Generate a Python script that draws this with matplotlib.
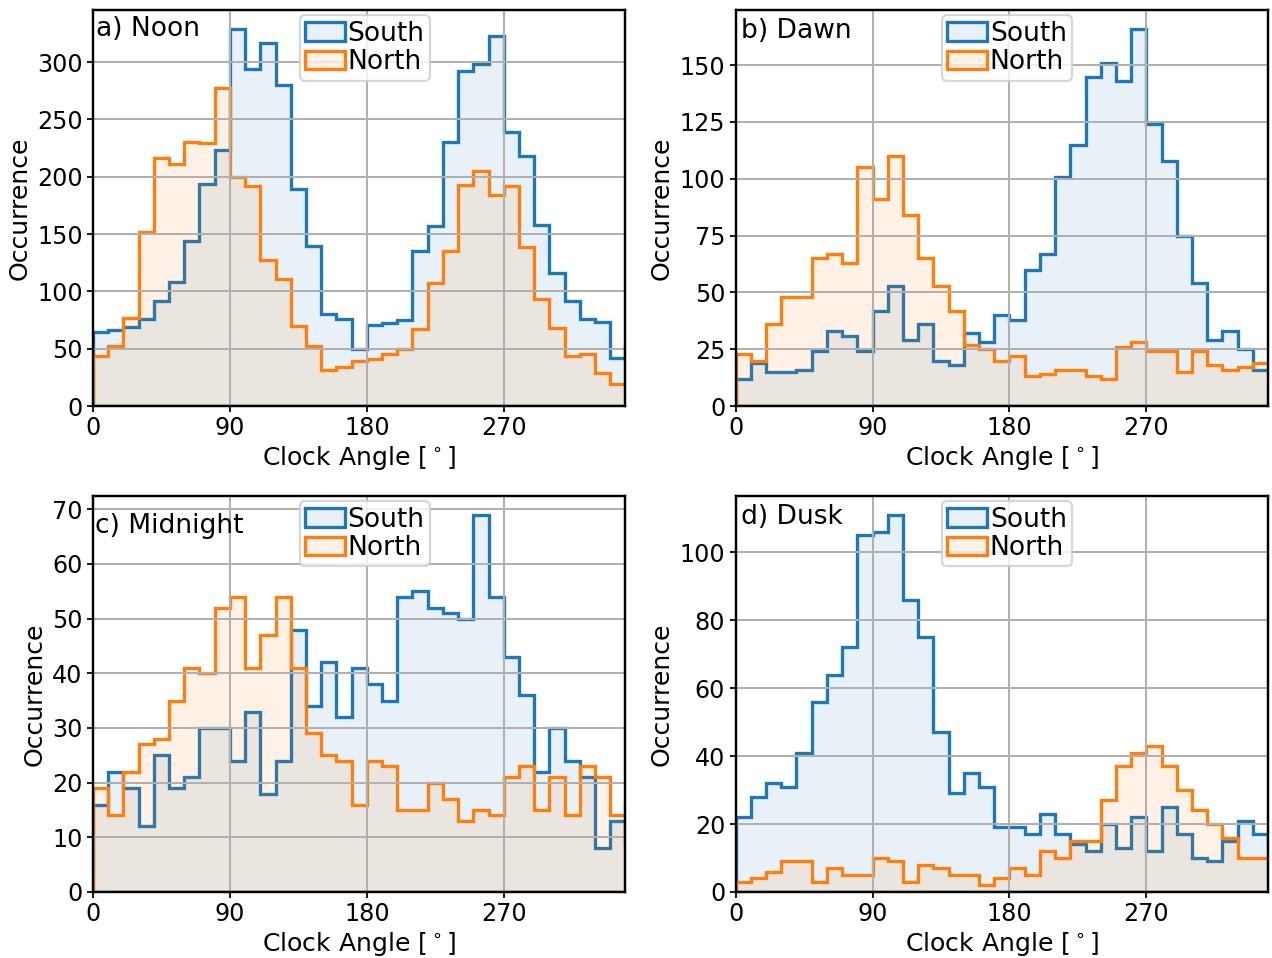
import matplotlib
matplotlib.use('Agg')
import matplotlib.pyplot as plt
import numpy as np
from matplotlib.colors import to_rgba

# 10 degree clock angle bins, 0 - 360
bin_edges = np.arange(0, 361, 10)

noon_south = [65, 66, 69, 76, 92, 108, 144, 194, 223, 329, 294, 317, 280, 189, 140, 80, 76, 50,
              71, 72, 75, 135, 157, 230, 292, 298, 323, 239, 218, 158, 116, 92, 76, 73, 42, 52]
noon_north = [44, 52, 77, 152, 216, 211, 230, 229, 277, 200, 192, 127, 111, 70, 52, 31, 34, 39,
              41, 45, 50, 67, 107, 135, 193, 205, 184, 192, 139, 93, 68, 44, 45, 29, 19, 20]

dawn_south = [12, 19, 15, 15, 16, 24, 33, 31, 24, 42, 53, 29, 36, 20, 18, 32, 28, 40,
              38, 60, 67, 101, 115, 145, 151, 143, 166, 124, 108, 75, 54, 29, 33, 25, 16, 16]
dawn_north = [23, 20, 36, 48, 48, 65, 67, 63, 105, 91, 110, 84, 65, 53, 42, 27, 25, 20,
              22, 13, 14, 16, 16, 13, 12, 26, 28, 24, 24, 15, 24, 18, 16, 17, 19, 19]

midnight_south = [16, 22, 19, 12, 25, 19, 21, 30, 30, 24, 33, 18, 24, 48, 34, 42, 32, 41,
                  38, 35, 54, 55, 52, 51, 50, 69, 54, 43, 36, 22, 30, 24, 21, 8, 13, 9]
midnight_north = [19, 14, 22, 27, 28, 35, 41, 40, 52, 54, 41, 47, 54, 41, 29, 25, 24, 16,
                  24, 23, 15, 15, 20, 17, 13, 15, 14, 21, 23, 15, 21, 14, 23, 21, 14, 16]

dusk_south = [22, 28, 32, 31, 41, 56, 64, 72, 105, 106, 111, 86, 75, 47, 29, 35, 31, 19,
              19, 17, 23, 17, 14, 12, 20, 13, 22, 12, 25, 17, 10, 9, 15, 21, 17, 12]
dusk_north = [3, 4, 6, 9, 9, 3, 7, 5, 5, 10, 9, 3, 8, 7, 5, 5, 2, 4,
              7, 5, 12, 10, 15, 15, 27, 37, 41, 43, 37, 30, 24, 20, 16, 10, 10, 4]

panel_titles = ['a) Noon', 'b) Dawn', 'c) Midnight', 'd) Dusk']
panel_data = [(noon_south, noon_north), (dawn_south, dawn_north),
              (midnight_south, midnight_north), (dusk_south, dusk_north)]
# where the panel label sits (axes fraction, baseline)
label_pos = [(0.006, 0.934), (0.011, 0.929), (0.003, 0.907), (0.010, 0.929)]

xticks = [0, 90, 180, 270]

bin_centres = 0.5 * (bin_edges[:-1] + bin_edges[1:])

plt.rcParams['axes.linewidth'] = 1.1
plt.rcParams['grid.linewidth'] = 0.9

fig, axes = plt.subplots(2, 2, figsize=(1272 / 159, 958 / 159), dpi=159)
fig.subplots_adjust(left=0.0731, right=0.9969, bottom=0.0689, top=0.9896,
                    wspace=0.207, hspace=0.227)

for ax, (south, north), title, pos in zip(axes.flat, panel_data, panel_titles, label_pos):
    ax.hist(bin_centres, bin_edges, weights=south, histtype='stepfilled',
            facecolor=to_rgba('C0', 0.1), edgecolor='C0', linewidth=1.5, label='South')
    ax.hist(bin_centres, bin_edges, weights=north, histtype='stepfilled',
            facecolor=to_rgba('C1', 0.1), edgecolor='C1', linewidth=1.5, label='North')
    ax.set_xlim(0, 350)
    ax.set_xticks(xticks)
    ax.tick_params(labelsize=10.8, length=2.5, pad=2.2)
    ax.grid(True)
    ax.set_xlabel(r'Clock Angle [$^\circ$]', fontsize=11.4, labelpad=1.5)
    ax.set_ylabel('Occurrence', fontsize=11.4, labelpad=2.5)
    ax.text(pos[0], pos[1], title, transform=ax.transAxes, fontsize=12,
            ha='left', va='baseline')
    ax.legend(loc='upper center', fontsize=12, handlelength=1.5, handletextpad=0.1,
              borderpad=0.2, labelspacing=0.1, borderaxespad=0.2,
              bbox_to_anchor=(0.51, 1))

plt.savefig('out.png', dpi=159)
plt.close()
